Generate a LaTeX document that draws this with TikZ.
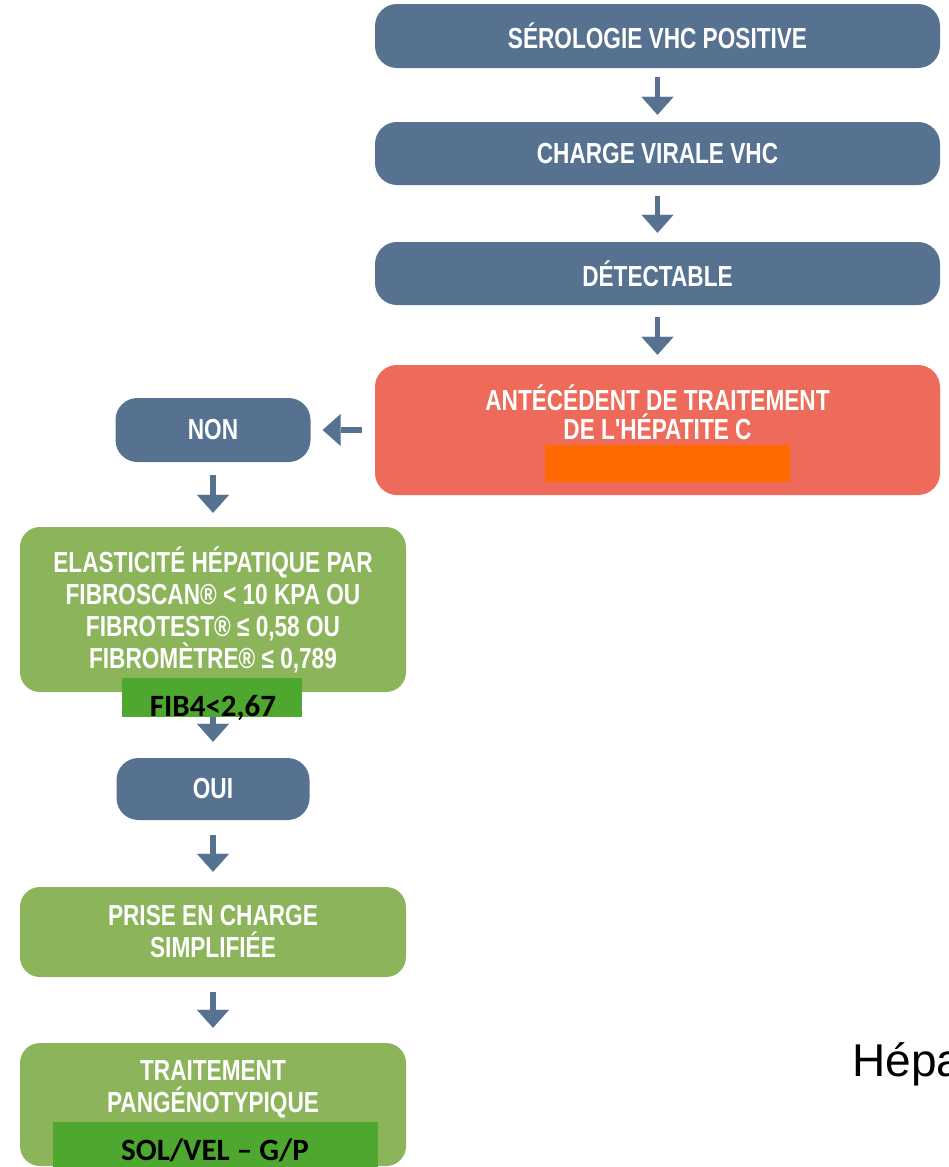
\documentclass[tikz,border=0pt]{standalone}
\usepackage{fontspec}
\newfontfamily\boxfont{Liberation Sans}[FakeStretch=0.78]
\newfontfamily\calfont{Carlito}
\newfontfamily\arialfont{Liberation Sans}
\usepackage{tikz}
\usetikzlibrary{arrows.meta}
\definecolor{vhcblue}{HTML}{567290}
\definecolor{vhcred}{HTML}{EE6B5B}
\definecolor{vhcorange}{HTML}{FF6A00}
\definecolor{vhcgreen}{HTML}{8CB45A}
\definecolor{fibgreen}{HTML}{4EA72E}

\begin{document}
\begin{tikzpicture}[x=1pt,y=-1pt,
  boxtext/.style={text=white,align=center,font=\boxfont\bfseries\fontsize{29}{32}\selectfont},
  bluebox/.style={boxtext,rectangle,rounded corners=22pt,fill=vhcblue,inner sep=0pt,minimum height=63pt},
  greenbox/.style={boxtext,rectangle,rounded corners=20pt,fill=vhcgreen,inner sep=0pt,minimum width=386pt},
  tagbox/.style={rectangle,fill=fibgreen,inner sep=0pt},
  tagtext/.style={text=black,font=\calfont\bfseries\fontsize{31}{34}\selectfont},
  arr/.style={draw=vhcblue,line width=5.5pt,-{Triangle[width=32pt,length=18pt,line width=0.1pt]}}]
\useasboundingbox (0,0) rectangle (949,1167);

\node[bluebox,minimum width=565pt,minimum height=64pt] (sero) at (657.5,36) {SÉROLOGIE VHC POSITIVE};
\node[bluebox,minimum width=565pt] (charge) at (657.5,153.5) {CHARGE VIRALE VHC};
\node[bluebox,minimum width=565pt] (detect) at (657.5,273.5) {DÉTECTABLE};
\node[bluebox,fill=vhcred,minimum width=565pt,minimum height=130pt] (ante) at (657.5,430) {};
\node[boxtext,font=\boxfont\bfseries\fontsize{29}{29}\selectfont] (antetxt) at (657.5,412) {ANTÉCÉDENT DE TRAITEMENT\\DE L'HÉPATITE C};
\node[rectangle,fill=vhcorange,minimum width=245pt,minimum height=37pt,inner sep=0pt] (antebar) at (667.5,463.5) {};

\node[bluebox,minimum width=195pt,minimum height=64pt] (non) at (213,430) {NON};
\node[greenbox,minimum height=165pt] (elast) at (213,609.5) {ELASTICITÉ HÉPATIQUE PAR\\FIBROSCAN® < 10 KPA OU\\FIBROTEST® ≤ 0,58 OU\\FIBROMÈTRE® ≤ 0,789};
\node[bluebox,minimum width=193pt,minimum height=62pt] (oui) at (213,789) {OUI};
\node[greenbox,minimum height=90pt] (prise) at (213,932) {PRISE EN CHARGE\\SIMPLIFIÉE};
\node[greenbox,minimum height=123pt] (trait) at (213,1104.5) {};
\node[boxtext] (traittxt) at (213,1089) {TRAITEMENT\\PANGÉNOTYPIQUE};

\draw[arr,shorten <=9pt,shorten >=7pt] (sero) -- (charge);
\draw[arr,shorten <=11pt,shorten >=9pt] (charge) -- (detect);
\draw[arr,shorten <=12pt,shorten >=10pt] (detect) -- (ante);
\draw[arr,shorten <=13pt,shorten >=12pt] (ante) -- (non);
\draw[arr,shorten <=13pt,shorten >=14pt] (non) -- (elast);
\draw[arr,shorten >=16pt] (elast.south) -- (oui.north);
\draw[arr,shorten <=15pt,shorten >=15pt] (oui) -- (prise);
\draw[arr,shorten <=15pt,shorten >=15pt] (prise) -- (trait);

\node[tagbox,minimum width=180pt,minimum height=39pt] (fib) at (212,697.5) {};
\node[tagtext,anchor=base] (fibtxt) at (213,716) {FIB4<2,67};
\node[tagbox,minimum width=325pt,minimum height=45pt] (solbar) at (215.5,1144.5) {};
\node[tagtext,anchor=base] (soltxt) at (215,1160) {SOL/VEL – G/P};

\node[anchor=base west,font=\arialfont\fontsize{46}{50}\selectfont] (hepa) at (849,1076) {Hépa};
\end{tikzpicture}
\end{document}
